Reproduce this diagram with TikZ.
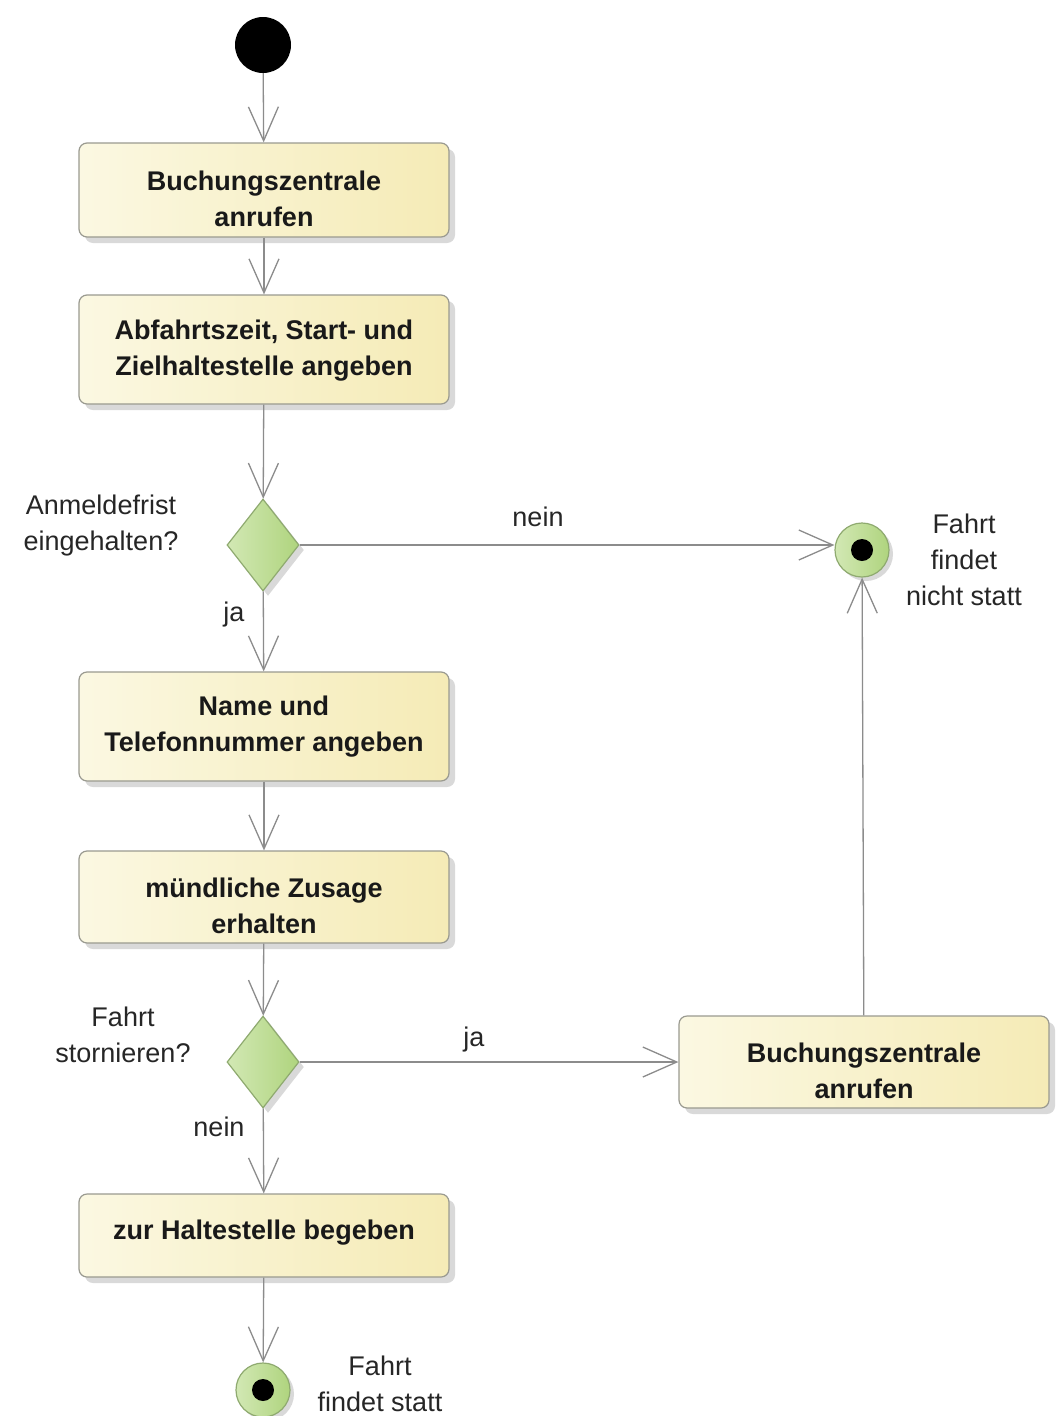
\documentclass[tikz,border=0pt]{standalone}
\usepackage{fontspec}
\setmainfont{Liberation Sans}
\usetikzlibrary{arrows.meta,shadows,shapes.geometric}
\definecolor{lineg}{HTML}{8C8C8C}
\definecolor{boxl}{HTML}{FBF8E2}
\definecolor{boxr}{HTML}{F5EBB6}
\definecolor{boxb}{HTML}{9A9A90}
\definecolor{grl}{HTML}{D2E8B4}
\definecolor{grr}{HTML}{AFD47E}
\definecolor{grb}{HTML}{8FAA70}
\tikzset{
  action/.style={draw=boxb, line width=1.2pt, rounded corners=8pt, left color=boxl, right color=boxr,
    minimum width=370pt,
    drop shadow={shadow xshift=6pt, shadow yshift=-6pt, fill=black, opacity=0.15}},
  actext/.style={align=center, font=\bfseries\fontsize{27}{36}\selectfont, text=black!90},
  decision/.style={diamond, draw=grb, line width=1.2pt, left color=grl, right color=grr,
    minimum width=72pt, minimum height=92pt, inner sep=0pt, aspect=0.78,
    drop shadow={shadow xshift=5pt, shadow yshift=-5pt, fill=black, opacity=0.15}},
  finalring/.style={circle, draw=grb, line width=1.2pt, left color=grl, right color=grr,
    minimum size=54pt, inner sep=0pt,
    drop shadow={shadow xshift=4pt, shadow yshift=-4pt, fill=black, opacity=0.15}},
  dot/.style={circle, fill=black, minimum size=22pt, inner sep=0pt},
  startdot/.style={circle, fill=black, minimum size=56pt, inner sep=0pt},
  lbl/.style={align=center, font=\fontsize{27}{36}\selectfont, text=black!85},
  flow/.style={draw=lineg, line width=1.3pt, -{Straight Barb[length=34pt,width=30pt,line width=1.3pt]}}
}
\begin{document}
\begin{tikzpicture}[x=1pt,y=-1pt]
\useasboundingbox[fill=white] (0,0) rectangle (1055,1416);
\node[startdot] (start) at (263,45) {};
\node[action, minimum height=94pt] (b1) at (264,190) {};
\node[actext] (b1t) at ([yshift=-9pt]b1.center) {Buchungszentrale\\anrufen};
\node[action, minimum height=109pt] (b2) at (264,349.5) {};
\node[actext] (b2t) at ([yshift=-1pt]b2.center) {Abfahrtszeit, Start- und\\Zielhaltestelle angeben};
\node[decision] (d1) at (263,545) {};
\node[action, minimum height=109pt] (b3) at (264,726.5) {};
\node[actext] (b3t) at (b3.center) {Name und\\Telefonnummer angeben};
\node[action, minimum height=92pt] (b4) at (264,897) {};
\node[actext] (b4t) at ([yshift=-9pt]b4.center) {mündliche Zusage\\erhalten};
\node[decision] (d2) at (263,1062) {};
\node[action, minimum height=92pt] (b5) at (864,1062) {};
\node[actext] (b5t) at ([yshift=-9pt]b5.center) {Buchungszentrale\\anrufen};
\node[action, minimum height=83pt] (b6) at (264,1235.5) {};
\node[actext] (b6t) at ([yshift=3pt]b6.center) {zur Haltestelle begeben};
\node[finalring] (e1) at (862,550) {};
\node[dot] (e1dot) at (e1) {};
\node[finalring] (e2) at (263,1390) {};
\node[dot] (e2dot) at (e2) {};

\node[lbl] (l1) at (101,526) {Anmeldefrist\\eingehalten?};
\node[lbl] (l2) at (538,517) {nein};
\node[lbl] (l3) at (234,615) {ja};
\node[lbl] (l4) at (964,560) {Fahrt\\findet\\nicht statt};
\node[lbl] (l5) at (123,1035) {Fahrt\\stornieren?};
\node[lbl] (l6) at (474,1040) {ja};
\node[lbl] (l7) at (219,1127) {nein};
\node[lbl] (l8) at (380,1384) {Fahrt\\findet statt};

\draw[flow] (start) -- (b1);
\draw[flow] (b1) -- (b2);
\draw[flow] (b2) -- (d1);
\draw[flow] (d1) -- (b3);
\draw[flow] (d1.east) -- (e1.west |- d1.east);
\draw[flow] (b3) -- (b4);
\draw[flow] (b4) -- (d2);
\draw[flow] (d2.east) -- (b5.west);
\draw[flow] (d2) -- (b6);
\draw[flow] (b6) -- (e2);
\draw[flow] (b5) -- (e1);
\end{tikzpicture}
\end{document}
